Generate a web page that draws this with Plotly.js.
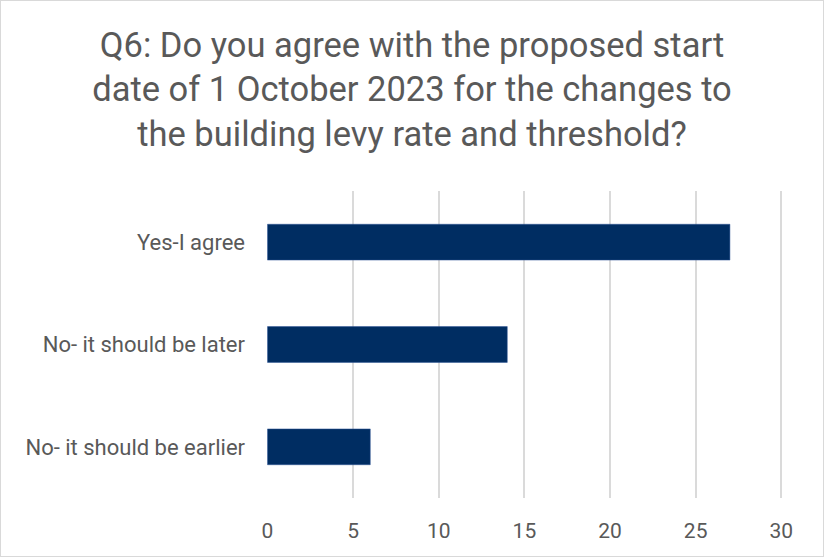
<!DOCTYPE html>
<html>
<head>
<meta charset="utf-8">
<script src="https://cdn.plot.ly/plotly-3.0.1.min.js"></script>
<style>
  html, body { margin: 0; padding: 0; background: #ffffff; }
  #chart { width: 824px; height: 557px; box-sizing: border-box; border: 1px solid #d9d9d9; }
</style>
</head>
<body>
<div id="chart"></div>
<script>
const categories = ["No- it should be earlier", "No- it should be later", "Yes-I agree"];
const counts = [6, 14, 27];
const xTickValues = [0, 5, 10, 15, 20, 25, 30];
const titleText = "Q6: Do you agree with the proposed start<br>date of 1 October 2023 for the changes to<br>the building levy rate and threshold?";

const fontFam = "Roboto, 'DejaVu Sans', sans-serif";

const trace = {
  type: "bar",
  orientation: "h",
  y: categories,
  x: counts,
  marker: { color: "#002D62", line: { color: "#2f5597", width: 0.5 } },
  hoverinfo: "x+y"
};

const layout = {
  width: 822,
  height: 555,
  paper_bgcolor: "#ffffff",
  plot_bgcolor: "#ffffff",
  margin: { l: 266, r: 40, t: 190, b: 58 },
  title: {
    text: titleText,
    font: { family: fontFam, size: 34.5, color: "#595959" },
    x: 0.5,
    xanchor: "center",
    y: 0.9,
    yanchor: "top"
  },
  bargap: 0.65,
  showlegend: false,
  xaxis: {
    range: [-0.03, 30.1],
    tickvals: xTickValues,
    showgrid: true,
    gridcolor: "#dadada",
    gridwidth: 2,
    zeroline: false,
    showline: false,
    ticks: "",
    ticklabelstandoff: 18,
    tickfont: { family: fontFam, size: 21, color: "#595959" }
  },
  yaxis: {
    showgrid: false,
    zeroline: false,
    showline: false,
    ticks: "",
    ticklabelstandoff: 21,
    tickfont: { family: fontFam, size: 22, color: "#595959" }
  }
};

Plotly.newPlot("chart", [trace], layout, { displayModeBar: false, staticPlot: true });
</script>
</body>
</html>
